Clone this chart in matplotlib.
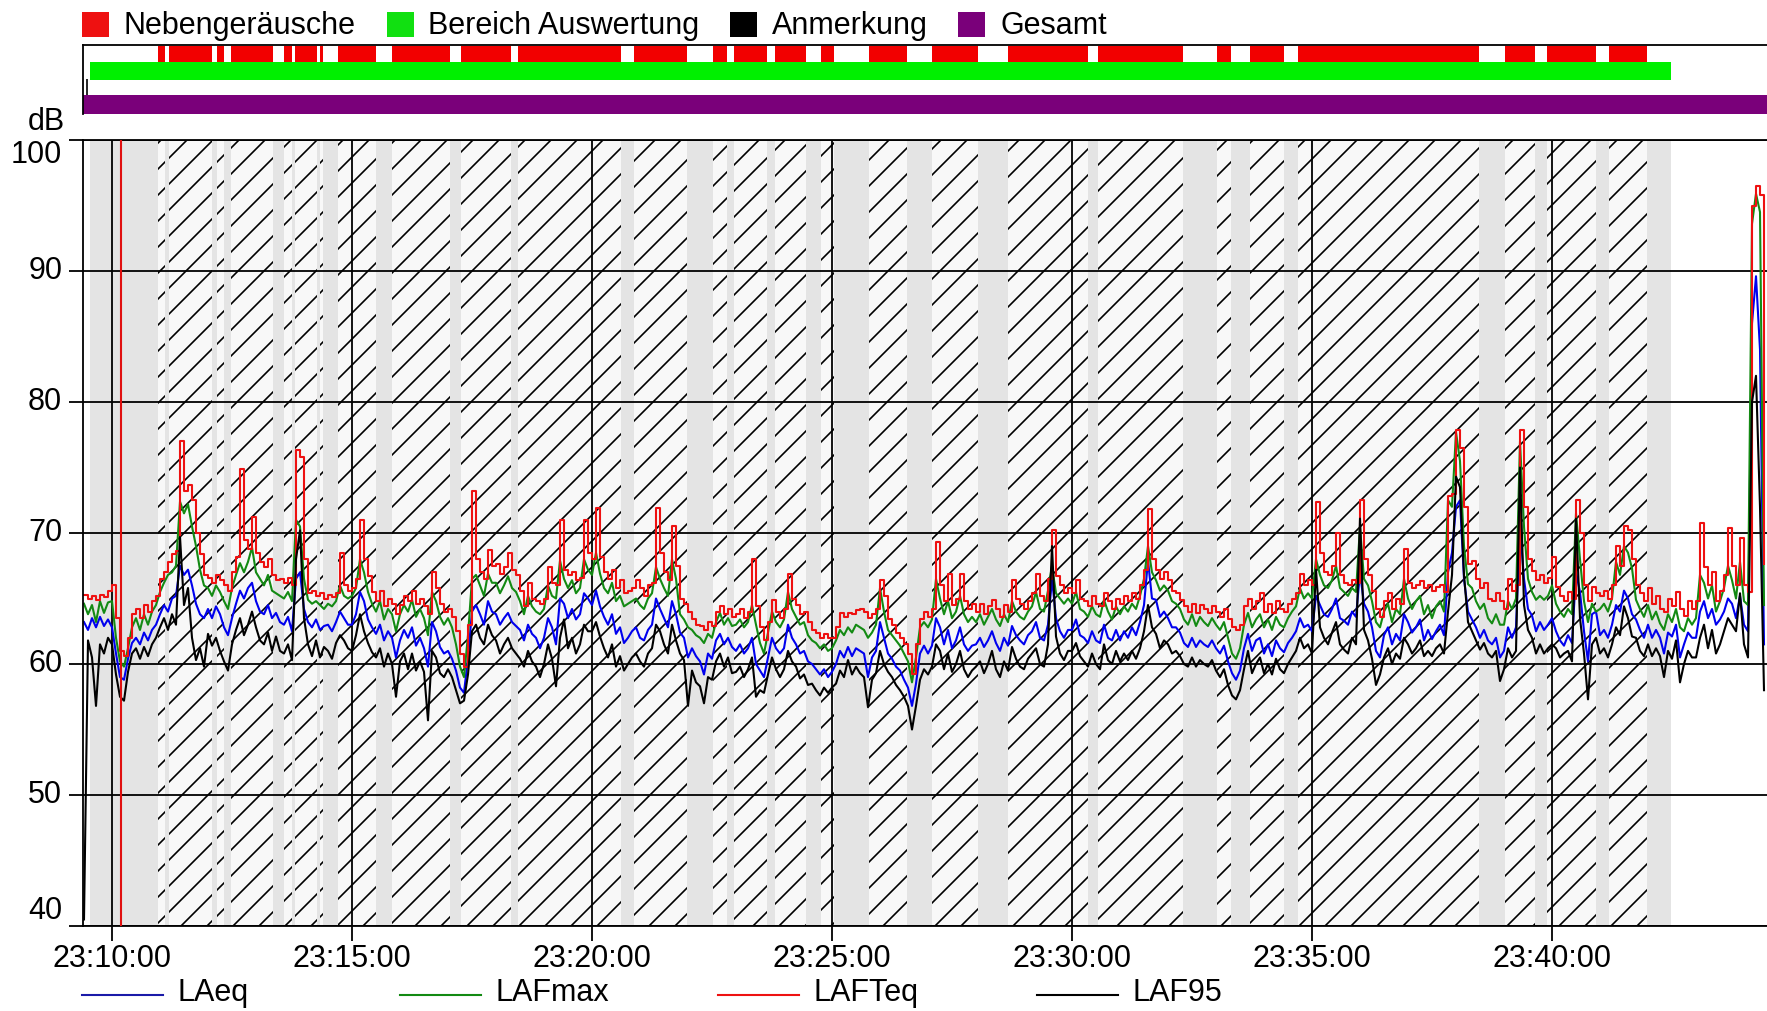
import numpy as np
import matplotlib
matplotlib.use("Agg")
import matplotlib.pyplot as plt
from matplotlib.patches import Rectangle
from matplotlib.collections import LineCollection
from matplotlib.lines import Line2D

plt.rcParams['font.family'] = ['Liberation Sans', 'DejaVu Sans']
FS = 22

# ---------------- data (time in seconds relative to 23:10:00) ----------------
t_start = -35
t_step = 5

LAFTeq = [
    65.3, 65.0, 65.2, 64.9, 65.3, 65.1, 65.6,
    66.0, 63.5, 61.0, 60.6, 62.0, 63.8, 64.2, 63.5, 64.5, 64.0, 64.8, 65.2,
    66.5, 67.0, 67.8, 68.4, 68.6, 77.0, 73.2, 73.7, 72.5, 70.0, 68.4, 66.8,
    66.6, 66.2, 66.8, 66.4, 66.0, 65.6, 67.0, 68.2, 74.9, 69.5, 68.8, 71.2,
    68.5, 67.8, 67.4, 68.0, 66.8, 66.4, 66.5, 66.2, 66.6, 66.0, 76.3, 75.8,
    68.0, 65.4, 65.6, 65.2, 65.4, 65.0, 65.3, 65.1, 65.4, 68.5, 66.0, 65.6,
    65.8, 66.5, 71.0, 68.0, 66.7, 65.5, 64.8, 65.6, 64.4, 65.0, 64.6, 63.8,
    64.5, 65.2, 64.8, 65.6, 64.6, 65.0, 64.4, 63.8, 67.0, 65.8, 64.6, 64.0,
    64.2, 63.6, 62.5, 60.8, 59.8, 63.0, 73.2, 68.0, 67.0, 66.5, 68.7, 67.5,
    67.6, 66.9, 67.4, 68.5, 67.2, 66.8, 65.6, 64.4, 66.2, 65.0, 64.8, 64.6,
    65.0, 67.4, 66.2, 66.0, 71.0, 67.2, 66.8, 67.0, 66.4, 66.6, 71.0, 68.5,
    68.0, 71.9, 68.2, 67.0, 66.5, 67.2, 65.8, 66.4, 65.4, 65.6, 65.8, 66.4,
    65.8, 65.2, 66.0, 66.2, 71.9, 68.5, 67.0, 66.4, 70.5, 67.5, 65.0, 64.6,
    64.0, 63.4, 63.0, 62.9, 62.6, 63.2, 62.9, 64.0, 64.4, 63.8, 64.2, 63.6,
    63.8, 64.2, 63.5, 64.0, 68.0, 64.4, 62.8, 61.8, 63.2, 64.9, 64.0, 63.5,
    64.2, 66.9, 65.0, 64.5, 63.8, 64.0, 63.2, 62.6, 62.4, 62.0, 62.3, 62.0,
    62.0, 62.8, 63.9, 63.6, 63.9, 63.8, 64.1, 64.2, 64.0, 63.5, 63.8, 64.2,
    66.4, 65.2, 63.4, 63.0, 62.4, 62.0, 61.5, 60.8, 59.2, 61.5, 63.4, 64.0,
    63.6, 64.2, 69.3, 66.0, 64.8, 66.9, 64.5, 65.0, 66.9, 64.8, 64.2, 64.6,
    64.0, 64.6, 63.8, 64.4, 64.9, 64.2, 63.6, 64.5, 64.0, 66.4, 65.0, 64.6,
    64.2, 64.8, 65.4, 66.9, 65.2, 64.8, 66.5, 70.2, 66.7, 66.0, 65.4, 65.8,
    65.4, 66.4, 65.0, 64.8, 64.4, 65.2, 64.6, 64.4, 65.4, 64.8, 64.2, 65.0,
    64.6, 65.2, 64.8, 65.4, 65.0, 66.0, 67.2, 71.8, 68.0, 67.2, 66.5, 67.0,
    66.4, 65.6, 65.4, 64.9, 64.4, 64.0, 64.6, 63.9, 64.5, 64.2, 63.9, 64.4,
    64.0, 63.6, 64.2, 63.4, 62.8, 62.6, 63.0, 64.4, 65.0, 64.2, 64.8, 65.4,
    64.0, 64.6, 63.9, 64.8, 64.2, 64.0, 64.6, 65.0, 65.4, 66.9, 66.0, 66.4,
    66.0, 72.4, 68.5, 67.0, 66.8, 67.5, 70.0, 66.8, 66.2, 66.0, 66.4, 66.2,
    72.5, 68.0, 66.8, 65.6, 64.2, 63.6, 64.8, 65.4, 64.2, 65.0, 64.6, 68.8,
    66.2, 65.8, 66.0, 66.3, 65.8, 66.0, 65.6, 65.9, 66.0, 65.5, 72.8, 73.0,
    77.9, 76.5, 72.0, 67.6, 67.9, 66.5, 65.8, 66.2, 65.0, 64.8, 65.4, 64.8,
    64.2, 66.5, 65.6, 66.0, 77.9, 72.0, 68.0, 67.1, 66.4, 66.8, 66.2, 66.6,
    68.2, 65.9, 65.2, 64.8, 65.5, 65.0, 72.5, 70.0, 66.0, 64.8, 65.9, 65.4,
    65.2, 65.6, 65.0, 66.0, 69.0, 67.5, 70.5, 70.2, 68.0, 66.0, 65.4, 64.8,
    65.8, 64.6, 65.2, 64.2, 64.0, 65.0, 64.4, 65.5, 64.2, 63.7, 64.8, 64.2,
    64.8, 70.8, 67.4, 66.0, 67.0, 64.8, 65.6, 66.8, 70.4, 67.5, 66.0, 69.6,
    66.0, 65.5, 95.0, 96.5, 95.8, 67.6,
]

LAFmax = [
    64.6, 63.8, 64.5, 63.2, 64.8, 63.9, 64.7,
    64.8, 62.0, 60.2, 59.8, 61.2, 62.8, 63.5, 62.6, 63.8, 63.0, 64.0, 64.5,
    65.5, 66.2, 66.8, 67.0, 67.5, 72.4, 71.5, 72.2, 70.5, 69.0, 67.2, 66.0,
    65.8, 65.2, 66.0, 65.5, 64.8, 64.2, 65.8, 66.8, 67.7, 67.0, 67.8, 68.9,
    67.0, 66.5, 66.0, 66.8, 65.6, 65.4, 65.2, 65.0, 65.5, 64.8, 71.0, 70.5,
    66.5, 64.9, 64.6, 64.8, 64.5, 64.2, 64.6, 64.4, 64.8, 66.0, 65.2, 65.0,
    65.2, 65.8, 68.0, 67.0, 65.5, 64.6, 64.0, 64.8, 63.4, 64.2, 63.8, 62.5,
    63.8, 64.5, 64.0, 64.9, 63.6, 64.2, 63.5, 62.2, 65.5, 64.8, 63.6, 63.0,
    63.5, 62.8, 61.5, 59.8, 59.0, 62.2, 66.5, 66.8, 66.0, 65.2, 66.9, 66.2,
    66.2, 65.4, 66.0, 66.7, 65.8, 65.5, 64.8, 63.8, 65.2, 64.4, 64.0, 63.8,
    64.2, 66.0, 65.2, 65.0, 67.9, 66.5, 65.8, 66.4, 65.4, 65.8, 68.0, 67.2,
    66.8, 68.5, 66.9, 65.8, 65.4, 66.2, 64.8, 65.2, 64.4, 64.6, 64.8, 65.0,
    64.5, 64.2, 65.0, 65.4, 67.4, 66.5, 65.8, 65.2, 68.0, 66.5, 63.8, 63.4,
    62.8, 62.6, 62.2, 62.0, 61.6, 62.3, 62.0, 63.2, 63.9, 63.0, 63.5, 62.9,
    63.0, 63.4, 62.8, 63.2, 64.5, 63.0, 61.6, 60.8, 62.4, 64.0, 63.2, 62.8,
    63.4, 65.5, 64.2, 63.6, 63.0, 63.2, 62.2, 61.8, 61.6, 61.2, 61.5, 61.0,
    61.2, 61.8, 62.6, 62.2, 62.8, 62.4, 63.0, 62.8, 62.6, 62.0, 62.4, 63.0,
    65.8, 64.0, 62.6, 62.2, 61.8, 61.4, 60.8, 60.2, 58.6, 60.5, 62.8, 63.2,
    62.8, 63.4, 66.5, 65.0, 63.8, 64.8, 63.5, 64.0, 65.2, 63.8, 63.2, 63.6,
    63.2, 63.8, 63.0, 63.6, 64.2, 63.4, 62.9, 63.8, 63.2, 64.8, 64.0, 63.6,
    63.4, 64.0, 64.4, 65.5, 64.2, 64.0, 65.6, 67.5, 65.4, 65.0, 64.6, 65.0,
    64.6, 65.5, 64.2, 64.0, 63.6, 64.4, 63.8, 63.6, 64.9, 64.0, 63.4, 64.4,
    63.8, 64.4, 64.0, 64.6, 64.2, 65.2, 66.5, 69.0, 67.0, 66.4, 65.6, 66.0,
    65.6, 64.8, 64.6, 64.2, 63.4, 63.0, 63.8, 62.9, 63.6, 63.2, 62.9, 63.5,
    63.0, 62.6, 63.2, 62.0, 60.8, 60.4, 61.2, 63.0, 63.9, 62.8, 63.4, 63.8,
    62.8, 63.4, 62.6, 63.6, 63.0, 62.8, 63.5, 64.0, 64.4, 65.8, 65.0, 65.4,
    65.0, 68.0, 66.8, 66.0, 65.8, 66.4, 67.5, 65.8, 65.5, 65.2, 65.8, 65.5,
    70.5, 66.5, 66.0, 64.8, 63.2, 62.8, 64.0, 64.6, 63.2, 64.2, 63.8, 66.5,
    65.0, 64.2, 64.8, 65.2, 63.8, 64.5, 63.5, 64.4, 64.8, 64.0, 72.5, 72.0,
    77.7, 75.5, 69.0, 66.1, 65.8, 64.8, 64.2, 64.6, 63.5, 63.1, 63.8, 63.0,
    63.0, 64.8, 64.2, 65.0, 77.0, 70.5, 66.5, 65.5, 64.9, 65.2, 64.9, 65.2,
    66.0, 64.6, 64.0, 63.6, 64.2, 63.8, 71.5, 68.0, 64.8, 63.2, 64.6, 64.0,
    64.2, 64.6, 64.0, 65.0, 67.8, 66.8, 69.0, 68.5, 67.3, 64.9, 64.2, 63.6,
    64.5, 63.4, 64.0, 63.1, 62.6, 63.8, 63.2, 64.2, 62.8, 62.5, 63.5, 63.0,
    63.5, 66.8, 66.2, 65.0, 66.0, 64.0, 64.8, 65.8, 67.5, 66.4, 65.0, 67.8,
    64.8, 64.5, 93.6, 95.9, 94.5, 64.5,
]

LAeq = [
    63.2, 62.6, 63.5, 62.8, 63.6, 62.9, 63.4,
    62.8, 60.8, 59.0, 58.8, 60.4, 61.6, 62.0, 61.5, 62.4, 61.8, 62.6, 63.0,
    63.8, 64.5, 64.0, 65.0, 65.2, 67.5, 66.8, 67.2, 66.0, 64.6, 63.8, 63.5,
    64.2, 63.5, 64.4, 63.8, 62.8, 62.2, 63.5, 64.6, 65.6, 65.0, 65.8, 66.2,
    64.8, 64.0, 63.8, 64.5, 63.5, 63.9, 63.2, 63.0, 63.6, 62.5, 66.5, 67.0,
    64.2, 63.2, 62.8, 63.4, 62.6, 62.9, 63.0, 62.5, 63.2, 64.0, 63.5, 63.0,
    63.0, 63.8, 65.5, 64.8, 63.4, 62.8, 62.3, 63.0, 61.8, 62.5, 62.0, 60.5,
    61.8, 62.6, 62.0, 62.8, 61.4, 62.0, 61.2, 59.8, 63.2, 62.5, 61.3, 60.8,
    61.0, 60.4, 59.5, 58.2, 57.8, 60.5, 64.0, 64.5, 63.8, 63.0, 64.8, 64.0,
    63.8, 63.0, 63.5, 63.9, 63.2, 62.9, 62.6, 61.8, 63.0, 62.3, 62.0, 61.2,
    62.0, 63.5, 62.8, 61.5, 65.0, 64.6, 63.5, 64.2, 63.4, 63.8, 65.4, 65.0,
    64.5, 65.6, 64.4, 63.6, 63.0, 63.8, 62.3, 62.8, 61.6, 62.0, 62.5, 62.8,
    62.0, 61.8, 62.6, 63.0, 65.0, 64.2, 63.5, 62.8, 64.8, 63.8, 62.4, 62.0,
    60.5, 61.2, 60.6, 60.2, 59.2, 60.8, 60.4, 61.8, 62.3, 61.5, 62.0, 61.3,
    61.0, 61.5, 60.8, 61.2, 62.0, 60.0, 59.5, 59.0, 60.5, 62.0, 61.2, 60.8,
    61.2, 63.0, 62.0, 61.5, 60.8, 61.0, 60.2, 60.0, 59.6, 59.2, 59.6, 59.0,
    59.4, 60.0, 61.0, 60.5, 61.3, 60.6, 61.2, 61.0, 60.8, 59.0, 60.5, 61.0,
    63.2, 62.0, 60.8, 60.4, 59.8, 59.5, 58.8, 58.2, 56.8, 58.5, 60.8, 61.4,
    60.8, 61.4, 63.5, 62.8, 61.5, 62.6, 61.2, 61.8, 62.8, 61.5, 61.0, 61.4,
    61.5, 62.0, 61.3, 61.8, 62.5, 61.6, 61.0, 62.0, 61.4, 62.9, 62.2, 61.8,
    61.5, 62.2, 62.5, 63.2, 62.0, 61.8, 63.0, 66.5, 63.5, 62.5, 62.0, 62.6,
    62.6, 63.4, 62.2, 62.0, 61.6, 62.5, 61.8, 61.6, 63.0, 62.0, 61.8, 62.6,
    61.8, 62.5, 62.0, 62.8, 62.2, 63.2, 64.5, 67.9, 65.0, 64.9, 63.6, 64.0,
    63.5, 62.8, 62.8, 62.4, 61.6, 61.3, 62.0, 61.3, 61.8, 61.5, 61.3, 61.8,
    61.2, 60.8, 61.4, 60.2, 59.3, 58.8, 59.5, 61.2, 62.3, 61.0, 61.8, 62.0,
    60.8, 61.5, 60.6, 61.8, 61.2, 60.9, 61.6, 62.0, 62.5, 63.5, 62.8, 63.0,
    62.5, 65.2, 64.5, 63.8, 63.6, 64.2, 65.0, 63.5, 63.3, 63.0, 64.0, 63.6,
    67.0, 64.6, 64.0, 62.8, 61.0, 60.5, 62.2, 62.8, 61.5, 62.3, 61.8, 63.8,
    63.2, 62.4, 62.8, 63.4, 61.8, 62.6, 61.9, 62.5, 63.0, 62.2, 67.0, 68.5,
    72.0, 72.5, 66.5, 64.0, 63.4, 62.8, 62.0, 62.6, 61.8, 61.5, 62.0, 60.5,
    61.0, 62.8, 62.0, 62.8, 70.5, 66.5, 64.2, 63.7, 62.5, 63.2, 62.6, 63.0,
    63.5, 62.5, 61.8, 61.4, 62.2, 61.6, 67.0, 65.5, 62.5, 60.2, 63.8, 64.0,
    62.2, 62.6, 62.0, 63.0, 64.5, 64.0, 65.6, 65.0, 63.8, 63.4, 62.6, 62.0,
    63.0, 62.0, 62.6, 62.0, 60.8, 62.4, 62.1, 63.0, 60.5, 61.5, 62.4, 62.0,
    62.0, 64.0, 64.8, 63.5, 64.2, 63.0, 63.4, 64.0, 65.0, 64.6, 63.5, 65.2,
    63.0, 62.5, 86.0, 89.6, 84.0, 61.5,
]

LAF95 = [
    40.5, 61.8, 60.5, 56.8, 61.5, 60.8, 62.0,
    61.5, 59.2, 57.5, 57.2, 59.4, 60.8, 61.2, 60.4, 61.3, 60.6, 61.5, 62.0,
    62.8, 63.5, 62.6, 63.8, 63.0, 69.7, 64.5, 65.8, 62.0, 60.3, 61.2, 59.8,
    62.3, 61.4, 62.0, 61.0, 60.2, 59.5, 61.5, 62.6, 63.5, 62.2, 63.0, 64.0,
    62.8, 61.8, 61.5, 62.4, 61.0, 62.1, 61.0, 60.8, 61.5, 60.3, 68.0, 70.2,
    63.5, 61.5, 60.6, 61.8, 60.5, 61.3, 61.0, 60.4, 61.6, 62.2, 61.8, 61.2,
    61.0, 62.2, 63.8, 62.5, 61.6, 60.9, 60.5, 61.2, 59.8, 60.8, 60.0, 57.5,
    60.2, 60.8, 59.6, 60.8, 59.5, 60.2, 59.4, 55.7, 61.0, 60.5, 59.3, 59.0,
    59.6, 59.0, 58.0, 57.0, 57.2, 59.2, 62.5, 63.0, 62.0, 61.5, 63.0, 62.2,
    61.8, 60.8, 61.5, 62.0, 61.2, 60.8, 60.4, 59.8, 61.0, 60.2, 59.8, 59.0,
    60.0, 61.5, 60.4, 58.3, 62.0, 63.4, 61.2, 62.0, 60.8, 61.5, 63.0, 62.5,
    62.5, 63.2, 62.1, 61.2, 60.5, 61.5, 59.8, 60.6, 59.5, 60.0, 60.5, 60.8,
    60.2, 59.8, 60.8, 61.2, 63.0, 62.5, 61.5, 60.8, 63.0, 61.8, 60.8, 60.3,
    56.8, 59.5, 58.6, 58.3, 57.0, 59.0, 58.8, 60.2, 60.8, 59.8, 60.5, 59.3,
    59.4, 59.8, 59.0, 59.6, 60.5, 57.5, 58.0, 57.8, 59.2, 60.5, 59.6, 59.0,
    59.6, 61.0, 60.2, 59.8, 58.9, 59.2, 58.4, 58.5, 58.0, 57.6, 58.2, 57.8,
    58.2, 58.5, 59.5, 59.0, 60.3, 59.2, 59.8, 59.3, 59.0, 56.7, 58.8, 59.3,
    61.0, 60.0, 59.4, 59.0, 58.4, 58.0, 57.5, 56.8, 55.0, 56.8, 58.8, 59.6,
    59.2, 59.8, 61.5, 61.0, 59.6, 60.8, 59.4, 60.0, 61.0, 59.6, 59.0, 59.5,
    59.8, 60.2, 59.3, 60.0, 61.0, 59.6, 59.0, 60.2, 59.5, 61.3, 60.4, 59.8,
    59.6, 60.4, 60.8, 61.2, 60.0, 59.8, 61.5, 69.0, 62.1, 60.8, 60.3, 61.0,
    61.0, 61.6, 60.6, 60.2, 59.8, 60.8, 60.0, 59.6, 61.5, 60.3, 60.0, 61.0,
    60.2, 60.8, 60.3, 61.0, 60.4, 61.2, 62.5, 64.5, 62.8, 62.3, 61.2, 61.8,
    61.5, 60.8, 61.0, 60.6, 60.0, 59.8, 60.5, 59.8, 60.3, 60.0, 59.8, 60.3,
    59.5, 59.0, 59.6, 58.4, 57.6, 57.3, 58.0, 59.6, 61.0, 59.3, 60.0, 60.5,
    59.3, 60.0, 59.2, 60.4, 59.6, 59.3, 60.0, 60.5, 61.0, 62.0, 61.2, 61.5,
    60.8, 67.2, 62.8, 62.0, 61.5, 62.4, 63.2, 61.5, 61.1, 60.8, 62.0, 61.5,
    71.1, 62.6, 61.8, 60.4, 58.4, 59.2, 60.5, 61.2, 60.0, 60.8, 60.4, 62.0,
    61.5, 60.8, 61.2, 61.8, 60.6, 61.0, 60.6, 61.2, 61.5, 60.8, 64.0, 66.8,
    74.3, 73.5, 66.8, 63.2, 62.5, 61.8, 61.1, 61.6, 60.8, 60.5, 61.0, 58.7,
    59.6, 61.2, 60.5, 61.0, 75.0, 64.5, 62.6, 62.0, 60.8, 61.5, 60.8, 61.2,
    61.5, 61.2, 60.5, 60.8, 61.0, 60.2, 71.1, 63.5, 60.8, 57.3, 61.5, 62.0,
    60.8, 61.2, 60.5, 61.5, 62.8, 62.2, 64.4, 63.5, 62.1, 62.0, 61.0, 60.6,
    61.5, 60.6, 61.2, 60.6, 59.0, 61.0, 60.4, 61.8, 58.6, 60.0, 61.0, 60.5,
    60.5, 62.0, 63.0, 61.2, 62.6, 60.8, 61.5, 62.5, 63.5, 63.0, 62.5, 65.4,
    61.5, 60.5, 80.0, 82.0, 72.0, 58.0,
]

# Nebengeräusche (noise) intervals, seconds relative to 23:10:00
noise_start = [57, 71, 131, 149, 215, 229, 260, 282, 350, 436, 507, 652, 751,
               778, 829, 886, 946, 1025, 1120, 1232, 1381, 1422, 1482, 1741, 1794, 1871]
noise_end = [66, 125, 140, 201, 225, 256, 264, 330, 422, 499, 636, 719, 769,
             819, 868, 903, 994, 1083, 1220, 1339, 1399, 1465, 1709, 1779, 1855, 1919]
eval_range = (-27.5, 1949)      # Bereich Auswertung
total_range = (-37.5, 2100)     # Gesamt
remark_t = -31                  # Anmerkung
cursor_t = 11

x_ticks = [0, 300, 600, 900, 1200, 1500, 1800]
x_labels = ["23:10:00", "23:15:00", "23:20:00", "23:25:00", "23:30:00", "23:35:00", "23:40:00"]
y_ticks = [40, 50, 60, 70, 80, 90, 100]
x_lim = (-36.25, 2068.75)

# ---------------- figure ----------------
W, H = 1767, 1011
fig = plt.figure(figsize=(W / 100, H / 100), dpi=100)

ax = fig.add_axes([83 / W, 1 - 926 / H, (W - 83) / W, (926 - 140) / H])
ax.set_xlim(*x_lim)
ax.set_ylim(40, 100)

times = t_start + t_step * np.arange(len(LAeq))

GRAY = "#e4e4e4"
ax.axvspan(eval_range[0], eval_range[1], color=GRAY, lw=0, zorder=0.1)

# hatched noise bands
ax_w_px = W * ax.get_position().width
ax_h_px = H * ax.get_position().height
px_per_s = ax_w_px / (x_lim[1] - x_lim[0])
px_per_db = ax_h_px / 60.0
spacing_s = 26.0 / px_per_s
span_s = 60.0 * px_per_db / px_per_s
cs = np.arange(x_lim[0] - span_s, x_lim[1] + spacing_s, spacing_s)
segs = [[(c, 40), (c + span_s, 100)] for c in cs]
for s, e in zip(noise_start, noise_end):
    r = Rectangle((s, 40), e - s, 60, facecolor="#f8f8f8", edgecolor="none", zorder=0.2)
    ax.add_patch(r)
    lc = LineCollection(segs, colors="black", linewidths=1.2, zorder=0.3)
    ax.add_collection(lc)
    lc.set_clip_path(r)

# series
LW = 1.5
ax.plot(times, LAeq, color="#0000ee", lw=LW, zorder=2)
ax.plot(times, LAFmax, color="#138a13", lw=LW, zorder=2.1)
ax.plot(times, LAFTeq, color="#ee1111", lw=LW, drawstyle="steps-post", zorder=2.2)
ax.plot(times, LAF95, color="black", lw=LW, zorder=2.3)

ax.axvline(cursor_t, color="#e01010", lw=1.5, zorder=3)

# grid / axes
ax.set_xticks(x_ticks)
ax.set_xticklabels(x_labels)
ax.set_yticks(y_ticks)
ax.set_yticklabels([str(v) for v in y_ticks])
for lbl in ax.get_yticklabels():
    if lbl.get_text() == "100":
        lbl.set_verticalalignment("top")
    elif lbl.get_text() == "40":
        lbl.set_verticalalignment("bottom")
    else:
        lbl.set_verticalalignment("center")
ax.set_axisbelow("line")
ax.grid(True, color="black", lw=1.3)
ax.tick_params(axis="y", direction="out", length=10, width=1.3, labelsize=FS, pad=5)
ax.tick_params(axis="x", direction="out", length=11, width=1.3, labelsize=FS, pad=2)
for sp in ["top", "left", "bottom"]:
    ax.spines[sp].set_linewidth(1.3)
    ax.spines[sp].set_color("black")
ax.spines["right"].set_visible(False)

fig.text(46 / W, 1 - 122 / H, "dB", fontsize=FS, ha="center", va="center")

# ---------------- top status bars ----------------
axt = fig.add_axes([83 / W, 1 - 114 / H, (W - 83) / W, 69 / H])
axt.set_xlim(*x_lim)
axt.set_ylim(69, 0)
axt.broken_barh([(s, e - s) for s, e in zip(noise_start, noise_end)], (1, 16), facecolors="#f20000")
axt.broken_barh([(eval_range[0], eval_range[1] - eval_range[0])], (17, 18), facecolors="#00f000")
axt.broken_barh([(total_range[0], total_range[1] - total_range[0])], (50, 19), facecolors="#7a007a")
axt.vlines([remark_t], 34, 50, color="black", lw=1.2)
axt.set_xticks([])
axt.set_yticks([])
for sp in ["right", "bottom"]:
    axt.spines[sp].set_visible(False)
for sp in ["top", "left"]:
    axt.spines[sp].set_linewidth(1.3)

# ---------------- top legend ----------------
top_items = [("Nebengeräusche", "#ee1111", 82, 123),
             ("Bereich Auswertung", "#11e011", 387, 428),
             ("Anmerkung", "black", 730, 772),
             ("Gesamt", "#7a007a", 958, 1000)]
for name, col, xs, xt in top_items:
    fig.add_artist(Rectangle((xs / W, 1 - 37 / H), 27 / W, 25 / H, transform=fig.transFigure,
                             facecolor=col, edgecolor="none"))
    fig.text(xt / W, 1 - 26 / H, name, fontsize=FS, ha="left", va="center")

# ---------------- bottom legend ----------------
bot_items = [("LAeq", "#1a1aa8", 82), ("LAFmax", "#138a13", 400),
             ("LAFTeq", "#ee1111", 718), ("LAF95", "black", 1037)]
for name, col, xl in bot_items:
    fig.add_artist(Line2D([xl / W, (xl + 81) / W], [1 - 995 / H] * 2,
                          transform=fig.transFigure, color=col, lw=1.5))
    fig.text((xl + 95) / W, 1 - 993 / H, name, fontsize=FS, ha="left", va="center")

fig.savefig("out.png", dpi=100)
